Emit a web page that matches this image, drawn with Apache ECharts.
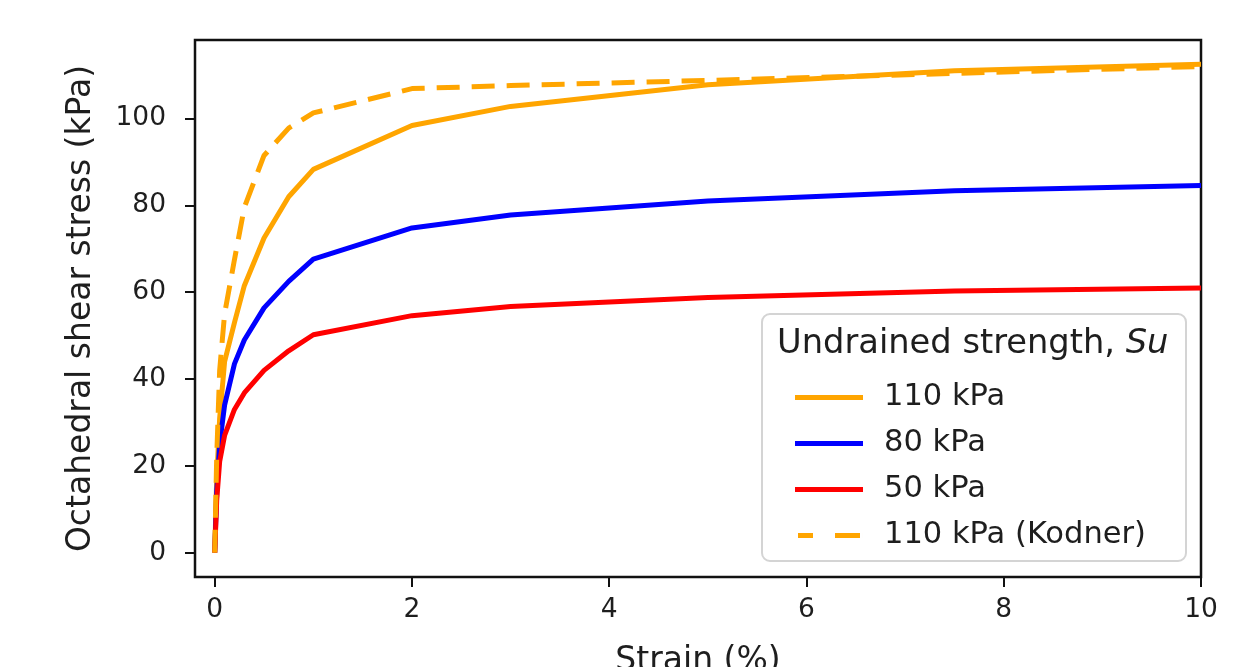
<!DOCTYPE html>
<html><head><meta charset="utf-8">
<script src="https://cdn.jsdelivr.net/npm/echarts@6/dist/echarts.min.js"></script>
<style>html,body{margin:0;padding:0;background:#fff}#c{width:1243px;height:667px}</style>
</head><body><div id="c"></div>
<script>
const strain = [0, 0.02, 0.05, 0.1, 0.2, 0.3, 0.5, 0.75, 1, 2, 3, 5, 7.5, 10];
const su110 = [0, 17, 31, 44, 53, 61.5, 72.5, 82, 88.3, 98.4, 102.8, 107.8, 111, 112.5];
const su80 = [0, 14, 25, 34, 43.5, 49, 56.4, 62.5, 67.6, 74.8, 77.8, 81, 83.4, 84.6];
const su50 = [0, 12, 21, 27, 33, 36.8, 42, 46.5, 50.2, 54.6, 56.7, 58.8, 60.3, 61];
const su110Kodner = [0, 22, 42, 55, 67.5, 79.5, 91.5, 97.8, 101.3, 106.9, 107.6, 108.8, 110.4, 112];
const seriesNames = ['110 kPa', '80 kPa', '50 kPa', '110 kPa (Kodner)'];
const seriesColors = ['#FFA500', '#0000FF', '#FF0000', '#FFA500'];
const xTicks = [0, 2, 4, 6, 8, 10];
const yTicks = [0, 20, 40, 60, 80, 100];
const legendTitle = 'Undrained strength, ';
const legendTitleItalic = 'Su';
const xName = 'Strain (%)';
const yName = 'Octahedral shear stress (kPa)';

const FONT = 'DejaVu Sans';
const TXT = '#1e1e1e';
const values = [su110, su80, su50, su110Kodner];
const chart = echarts.init(document.getElementById('c'), null, {renderer: 'canvas'});

const series = values.map((v, k) => ({
  name: seriesNames[k],
  type: 'line',
  data: strain.map((x, i) => [x, v[i]]),
  symbol: 'none',
  showSymbol: false,
  smooth: false,
  clip: true,
  z: 2 + k,
  itemStyle: {color: seriesColors[k]},
  lineStyle: {color: seriesColors[k], width: 5, type: k === 3 ? [23, 12] : 'solid', cap: 'butt'}
}));

const solidIcon = 'path://M0,0 L68,0 L68,5 L0,5 Z';
const dashIcon = 'path://M0,0 L0.01,0 L0.01,5 L0,5 Z M3,0 L18,0 L18,5 L3,5 Z M40,0 L65,0 L65,5 L40,5 Z M67.99,0 L68,0 L68,5 L67.99,5 Z';

chart.setOption({
  animation: false,
  backgroundColor: '#fff',
  grid: {left: 195, right: 42, top: 40, bottom: 90, show: true, borderColor: '#111', borderWidth: 2.5,
         backgroundColor: 'transparent', outerBoundsMode: 'none', containLabel: false},
  title: {
    text: '{n|' + legendTitle + '}{i|' + legendTitleItalic + '}',
    left: 777, top: 327, padding: 0, z: 6,
    textStyle: {
      fontWeight: 'normal',
      rich: {
        n: {fontSize: 33.7, fontFamily: FONT, color: TXT, fontWeight: 'normal'},
        i: {fontSize: 33.7, fontFamily: FONT, color: TXT, fontStyle: 'italic', fontWeight: 'normal'}
      }
    }
  },
  legend: {
    data: seriesNames.map((n, k) => ({name: n, icon: k === 3 ? dashIcon : solidIcon})),
    orient: 'vertical',
    left: 795, top: 382, padding: 0,
    itemWidth: 68, itemHeight: 5, itemGap: 15,
    selectedMode: false,
    z: 6,
    textStyle: {fontSize: 30.5, fontFamily: FONT, color: TXT, padding: [0, 0, 0, 16]}
  },
  graphic: [{
    type: 'rect', z: 5,
    shape: {x: 762, y: 314, width: 424, height: 247, r: 8},
    style: {fill: 'rgba(255,255,255,0.8)', stroke: '#d4d4d4', lineWidth: 2}
  }],
  xAxis: {
    type: 'value', min: -0.2, max: 10,
    axisLine: {show: false, onZero: false},
    splitLine: {show: false},
    axisTick: {show: true, customValues: xTicks, length: 10, inside: false, lineStyle: {color: '#111', width: 2}},
    axisLabel: {customValues: xTicks, fontSize: 26.5, margin: 20, color: TXT, fontFamily: FONT},
    name: xName, nameLocation: 'middle', nameGap: 68,
    nameTextStyle: {fontSize: 33, fontFamily: FONT, color: TXT}
  },
  yAxis: {
    type: 'value', min: -5.6, max: 118.1,
    axisLine: {show: false, onZero: false},
    splitLine: {show: false},
    axisTick: {show: true, customValues: yTicks, length: 10, inside: false, lineStyle: {color: '#111', width: 2}},
    axisLabel: {customValues: yTicks, fontSize: 26.5, margin: 29, color: TXT, fontFamily: FONT},
    name: yName, nameLocation: 'middle', nameGap: 97, nameRotate: 90,
    nameTextStyle: {fontSize: 33, fontFamily: FONT, color: TXT}
  },
  series: series
});
</script></body></html>
